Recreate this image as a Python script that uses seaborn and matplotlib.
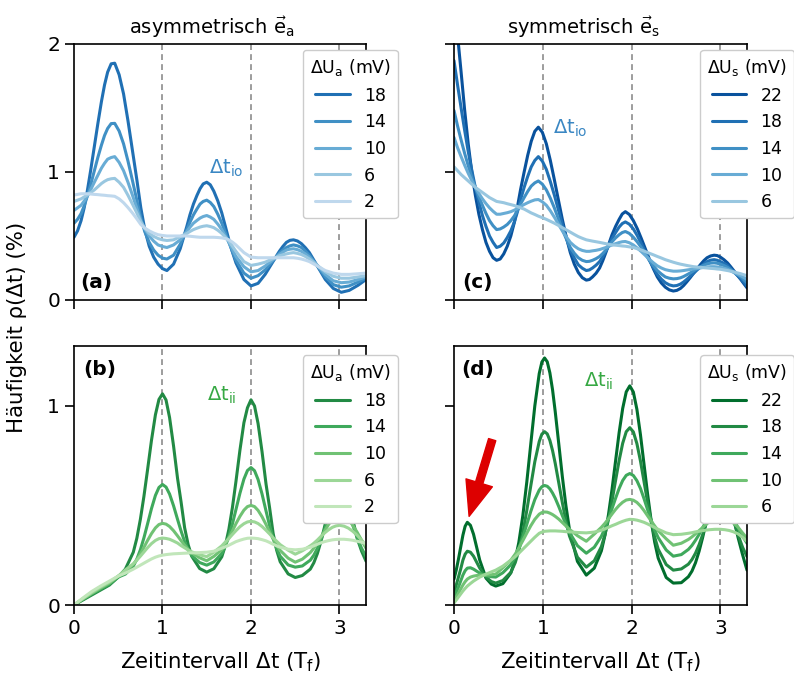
import pandas as pd
import matplotlib
matplotlib.use("Agg")
import matplotlib.pyplot as plt
import seaborn as sns

# ---------------------------------------------------------------------------
# Measured interval distributions rho(dt) in %, dt in units of T_f
# ---------------------------------------------------------------------------
# (a) asymmetric drive, Delta U_a in mV
t_a = [0, 0.04, 0.08, 0.115, 0.15, 0.19, 0.23, 0.27, 0.31, 0.345, 0.38, 0.42, 0.46,
       0.51, 0.56, 0.61, 0.66, 0.71, 0.755, 0.80, 0.85, 0.90, 0.95, 1.0, 1.05,
       1.125, 1.2,
       1.275, 1.31, 1.35, 1.39, 1.425, 1.46, 1.5, 1.54, 1.58, 1.625, 1.67, 1.71, 1.75,
       1.79, 1.83,
       1.92, 2.0, 2.08, 2.16, 2.24,
       2.32, 2.36, 2.40, 2.44, 2.48, 2.525, 2.57, 2.615, 2.66,
       2.75, 2.84, 2.93, 3.02, 3.11, 3.21, 3.3]
a_18 = [0.49, 0.54, 0.62, 0.72, 0.85, 1.02, 1.20, 1.38, 1.55, 1.68, 1.78, 1.845, 1.85,
        1.76, 1.61, 1.40, 1.17, 0.94, 0.72, 0.55, 0.42, 0.335, 0.28, 0.245, 0.23,
        0.28, 0.40,
        0.575, 0.665, 0.75, 0.818, 0.87, 0.907, 0.92, 0.90, 0.85, 0.774, 0.68, 0.576, 0.47,
        0.375, 0.29,
        0.16, 0.11, 0.13, 0.20, 0.29,
        0.38, 0.418, 0.45, 0.466, 0.47, 0.461, 0.44, 0.408, 0.37,
        0.265, 0.16, 0.09, 0.06, 0.075, 0.115, 0.16]
a_14 = [0.60, 0.63, 0.675, 0.735, 0.81, 0.905, 1.01, 1.115, 1.21, 1.285, 1.34, 1.378, 1.38,
        1.32, 1.22, 1.085, 0.935, 0.78, 0.64, 0.533, 0.45, 0.39, 0.35, 0.327, 0.32,
        0.35, 0.435,
        0.55, 0.607, 0.665, 0.712, 0.75, 0.77, 0.78, 0.762, 0.73, 0.67, 0.60, 0.526, 0.45,
        0.378, 0.31,
        0.21, 0.17, 0.19, 0.235, 0.30,
        0.365, 0.39, 0.41, 0.423, 0.43, 0.423, 0.41, 0.382, 0.35,
        0.265, 0.18, 0.12, 0.10, 0.11, 0.14, 0.17]
a_10 = [0.70, 0.72, 0.74, 0.773, 0.81, 0.864, 0.92, 0.975, 1.03, 1.068, 1.10, 1.113, 1.12,
        1.075, 1.01, 0.92, 0.82, 0.717, 0.62, 0.555, 0.50, 0.46, 0.43, 0.418, 0.41,
        0.43, 0.47,
        0.535, 0.568, 0.60, 0.622, 0.64, 0.652, 0.66, 0.648, 0.63, 0.593, 0.55, 0.50, 0.45,
        0.395, 0.34,
        0.26, 0.22, 0.23, 0.265, 0.31,
        0.355, 0.374, 0.39, 0.397, 0.40, 0.393, 0.38, 0.36, 0.335,
        0.27, 0.20, 0.15, 0.135, 0.14, 0.16, 0.18]
a_6 = [0.77, 0.78, 0.79, 0.805, 0.82, 0.84, 0.86, 0.885, 0.91, 0.927, 0.94, 0.947, 0.95,
       0.92, 0.88, 0.818, 0.75, 0.68, 0.61, 0.56, 0.52, 0.497, 0.48, 0.47, 0.465,
       0.47, 0.495,
       0.52, 0.535, 0.55, 0.561, 0.57, 0.576, 0.58, 0.574, 0.565, 0.545, 0.52, 0.49, 0.46,
       0.42, 0.38,
       0.30, 0.27, 0.28, 0.295, 0.32,
       0.345, 0.353, 0.36, 0.366, 0.37, 0.364, 0.355, 0.34, 0.32,
       0.27, 0.22, 0.185, 0.17, 0.17, 0.18, 0.19]
a_2 = [0.82, 0.825, 0.83, 0.83, 0.83, 0.828, 0.825, 0.823, 0.82, 0.818, 0.815, 0.813, 0.81,
       0.79, 0.76, 0.722, 0.68, 0.634, 0.59, 0.562, 0.54, 0.523, 0.51, 0.504, 0.50,
       0.50, 0.50,
       0.50, 0.498, 0.495, 0.492, 0.49, 0.49, 0.49, 0.49, 0.49, 0.488, 0.485, 0.48, 0.47,
       0.452, 0.43,
       0.37, 0.335, 0.33, 0.33, 0.33,
       0.33, 0.33, 0.33, 0.33, 0.33, 0.326, 0.32, 0.311, 0.30,
       0.265, 0.23, 0.21, 0.20, 0.20, 0.205, 0.21]

# (c) symmetric drive, Delta U_s in mV
t_c = [0, 0.04, 0.08, 0.12, 0.16, 0.20, 0.24, 0.28, 0.32, 0.36,
       0.40, 0.44, 0.48, 0.52, 0.56, 0.60, 0.64, 0.68, 0.715, 0.75,
       0.79, 0.83, 0.87, 0.91, 0.95, 0.995, 1.04, 1.085, 1.13, 1.175,
       1.22, 1.265, 1.31, 1.355, 1.40, 1.445, 1.49, 1.525, 1.56, 1.60,
       1.64, 1.675, 1.71, 1.745, 1.78, 1.82, 1.86, 1.895, 1.93, 1.975,
       2.02, 2.065, 2.11, 2.155, 2.20, 2.245, 2.29, 2.335, 2.38, 2.425,
       2.47, 2.51, 2.55, 2.585, 2.62, 2.66, 2.70, 2.74, 2.78, 2.815,
       2.85, 2.89, 2.93, 2.965, 3.0, 3.04, 3.08, 3.115, 3.15, 3.19,
       3.23, 3.265, 3.3]
c_22 = [2.45, 2.07, 1.78, 1.483, 1.22, 1.0, 0.82, 0.67, 0.55, 0.45,
        0.38, 0.33, 0.31, 0.32, 0.36, 0.42, 0.50, 0.607, 0.73, 0.864,
        1.00, 1.13, 1.24, 1.318, 1.35, 1.31, 1.22, 1.09, 0.94, 0.784,
        0.63, 0.49, 0.37, 0.28, 0.215, 0.174, 0.155, 0.16, 0.18, 0.209,
        0.25, 0.306, 0.37, 0.44, 0.51, 0.575, 0.63, 0.672, 0.69, 0.668,
        0.62, 0.556, 0.48, 0.40, 0.32, 0.245, 0.18, 0.133, 0.10, 0.079,
        0.07, 0.075, 0.09, 0.112, 0.14, 0.174, 0.21, 0.246, 0.28, 0.308,
        0.33, 0.344, 0.35, 0.347, 0.335, 0.315, 0.29, 0.261, 0.23, 0.195,
        0.16, 0.127, 0.095]
c_18 = [1.87, 1.68, 1.50, 1.325, 1.16, 1.015, 0.88, 0.765, 0.66, 0.575,
        0.50, 0.45, 0.41, 0.42, 0.445, 0.488, 0.54, 0.61, 0.69, 0.785,
        0.88, 0.965, 1.04, 1.09, 1.12, 1.085, 1.02, 0.925, 0.82, 0.706,
        0.59, 0.487, 0.39, 0.328, 0.275, 0.248, 0.23, 0.235, 0.25, 0.272,
        0.30, 0.338, 0.38, 0.43, 0.48, 0.527, 0.57, 0.597, 0.61, 0.592,
        0.555, 0.502, 0.44, 0.375, 0.31, 0.253, 0.20, 0.163, 0.135, 0.118,
        0.11, 0.113, 0.124, 0.14, 0.16, 0.185, 0.21, 0.236, 0.26, 0.282,
        0.30, 0.311, 0.315, 0.31, 0.30, 0.287, 0.27, 0.246, 0.22, 0.193,
        0.165, 0.137, 0.11]
c_14 = [1.48, 1.36, 1.25, 1.145, 1.05, 0.96, 0.88, 0.805, 0.74, 0.676,
        0.62, 0.58, 0.55, 0.555, 0.57, 0.59, 0.62, 0.657, 0.70, 0.75,
        0.80, 0.848, 0.89, 0.915, 0.93, 0.905, 0.86, 0.795, 0.72, 0.635,
        0.55, 0.477, 0.41, 0.365, 0.33, 0.31, 0.30, 0.302, 0.31, 0.323,
        0.34, 0.363, 0.39, 0.422, 0.455, 0.485, 0.51, 0.527, 0.535, 0.52,
        0.49, 0.453, 0.41, 0.36, 0.31, 0.268, 0.23, 0.203, 0.18, 0.17,
        0.165, 0.167, 0.173, 0.183, 0.196, 0.211, 0.228, 0.244, 0.26, 0.272,
        0.282, 0.288, 0.29, 0.287, 0.28, 0.269, 0.255, 0.238, 0.22, 0.20,
        0.18, 0.157, 0.135]
c_10 = [1.27, 1.19, 1.12, 1.053, 0.99, 0.933, 0.88, 0.833, 0.79, 0.753,
        0.72, 0.693, 0.67, 0.67, 0.676, 0.682, 0.69, 0.702, 0.716, 0.731,
        0.746, 0.76, 0.772, 0.782, 0.785, 0.767, 0.74, 0.697, 0.647, 0.594,
        0.54, 0.493, 0.45, 0.422, 0.40, 0.387, 0.38, 0.38, 0.384, 0.388,
        0.394, 0.402, 0.41, 0.42, 0.43, 0.44, 0.449, 0.455, 0.457, 0.447,
        0.43, 0.405, 0.378, 0.348, 0.318, 0.291, 0.267, 0.25, 0.237, 0.23,
        0.225, 0.225, 0.227, 0.23, 0.234, 0.238, 0.243, 0.247, 0.251, 0.255,
        0.258, 0.26, 0.26, 0.258, 0.255, 0.248, 0.24, 0.228, 0.215, 0.203,
        0.19, 0.175, 0.16]
c_6 = [1.04, 1.01, 0.98, 0.955, 0.93, 0.905, 0.88, 0.86, 0.84, 0.82,
       0.80, 0.785, 0.77, 0.765, 0.76, 0.752, 0.745, 0.738, 0.73, 0.72,
       0.71, 0.695, 0.68, 0.668, 0.655, 0.643, 0.63, 0.615, 0.60, 0.583,
       0.565, 0.548, 0.53, 0.512, 0.495, 0.482, 0.47, 0.465, 0.46, 0.455,
       0.45, 0.445, 0.44, 0.435, 0.43, 0.428, 0.425, 0.422, 0.42, 0.415,
       0.41, 0.40, 0.39, 0.378, 0.365, 0.353, 0.34, 0.328, 0.315, 0.305,
       0.295, 0.287, 0.28, 0.275, 0.27, 0.265, 0.26, 0.257, 0.255, 0.252,
       0.25, 0.247, 0.245, 0.242, 0.24, 0.235, 0.23, 0.225, 0.22, 0.212,
       0.205, 0.197, 0.19]

# (b) asymmetric drive
t_b = [0, 0.1, 0.2, 0.3, 0.4, 0.5,
       0.58, 0.67, 0.71, 0.75, 0.79, 0.83, 0.875, 0.92, 0.96, 1.0,
       1.04, 1.08, 1.125, 1.17, 1.21, 1.25, 1.29, 1.33, 1.42, 1.5,
       1.58, 1.67, 1.71, 1.75, 1.79, 1.83, 1.875, 1.92, 1.96, 2.0,
       2.04, 2.08, 2.125, 2.17, 2.21, 2.25, 2.29, 2.33, 2.42, 2.5,
       2.58, 2.67, 2.71, 2.75, 2.79, 2.83, 2.875, 2.92, 2.96, 3.0,
       3.05, 3.1, 3.15, 3.2, 3.25, 3.3]
b_18 = [0, 0.025, 0.05, 0.075, 0.10, 0.14,
        0.18, 0.265, 0.335, 0.43, 0.545, 0.675, 0.825, 0.955, 1.032, 1.06,
        1.029, 0.941, 0.798, 0.636, 0.517, 0.388, 0.303, 0.245, 0.183, 0.165,
        0.182, 0.242, 0.298, 0.38, 0.489, 0.62, 0.777, 0.915, 0.99, 1.03,
        0.999, 0.911, 0.769, 0.607, 0.489, 0.36, 0.275, 0.217, 0.156, 0.138,
        0.148, 0.18, 0.212, 0.258, 0.318, 0.39, 0.477, 0.554, 0.601, 0.618,
        0.592, 0.522, 0.429, 0.335, 0.27, 0.22]
b_14 = [0, 0.028, 0.055, 0.08, 0.105, 0.14,
        0.155, 0.195, 0.23, 0.277, 0.337, 0.405, 0.483, 0.55, 0.59, 0.605,
        0.592, 0.557, 0.498, 0.43, 0.371, 0.319, 0.278, 0.248, 0.213, 0.20,
        0.216, 0.258, 0.295, 0.345, 0.407, 0.479, 0.561, 0.632, 0.675, 0.69,
        0.674, 0.63, 0.557, 0.472, 0.399, 0.334, 0.283, 0.245, 0.201, 0.19,
        0.196, 0.225, 0.25, 0.284, 0.327, 0.376, 0.432, 0.48, 0.51, 0.52,
        0.504, 0.461, 0.401, 0.338, 0.284, 0.245]
b_10 = [0, 0.03, 0.058, 0.085, 0.11, 0.145,
        0.168, 0.204, 0.228, 0.257, 0.289, 0.323, 0.358, 0.387, 0.404, 0.41,
        0.406, 0.394, 0.373, 0.347, 0.323, 0.30, 0.279, 0.262, 0.237, 0.222,
        0.244, 0.277, 0.303, 0.338, 0.372, 0.408, 0.445, 0.476, 0.494, 0.50,
        0.494, 0.475, 0.443, 0.404, 0.367, 0.332, 0.30, 0.274, 0.235, 0.215,
        0.23, 0.263, 0.285, 0.311, 0.34, 0.37, 0.403, 0.43, 0.445, 0.45,
        0.446, 0.43, 0.40, 0.365, 0.325, 0.285]
b_6 = [0, 0.032, 0.062, 0.09, 0.115, 0.145,
       0.176, 0.207, 0.225, 0.245, 0.266, 0.287, 0.308, 0.324, 0.333, 0.336,
       0.334, 0.33, 0.321, 0.311, 0.298, 0.287, 0.276, 0.267, 0.252, 0.243,
       0.265, 0.297, 0.316, 0.334, 0.354, 0.373, 0.393, 0.408, 0.417, 0.42,
       0.417, 0.409, 0.394, 0.375, 0.357, 0.338, 0.32, 0.303, 0.275, 0.255,
       0.272, 0.297, 0.31, 0.326, 0.344, 0.361, 0.377, 0.39, 0.397, 0.40,
       0.396, 0.386, 0.37, 0.35, 0.325, 0.30]
b_2 = [0, 0.035, 0.068, 0.095, 0.12, 0.145,
       0.16, 0.18, 0.19, 0.20, 0.21, 0.22, 0.231, 0.24, 0.246, 0.25,
       0.253, 0.255, 0.257, 0.258, 0.259, 0.26, 0.261, 0.262, 0.263, 0.265,
       0.27, 0.285, 0.292, 0.30, 0.309, 0.318, 0.325, 0.331, 0.335, 0.336,
       0.335, 0.333, 0.328, 0.322, 0.314, 0.305, 0.297, 0.29, 0.28, 0.277,
       0.28, 0.29, 0.297, 0.305, 0.312, 0.318, 0.323, 0.327, 0.329, 0.33,
       0.33, 0.328, 0.325, 0.32, 0.315, 0.31]

# (d) symmetric drive
t_d = [0, 0.025, 0.05, 0.075, 0.10, 0.125, 0.15, 0.185, 0.22, 0.255, 0.29, 0.36, 0.42, 0.47,
       0.55, 0.64, 0.69, 0.73, 0.775, 0.82, 0.865, 0.91, 0.96, 0.99, 1.02,
       1.05, 1.08, 1.11, 1.14, 1.18, 1.22, 1.26, 1.30, 1.39, 1.49,
       1.58, 1.66, 1.70, 1.74, 1.78, 1.82, 1.86, 1.90, 1.94, 1.98,
       2.02, 2.06, 2.10, 2.14, 2.18, 2.22, 2.26, 2.30, 2.39, 2.47,
       2.56, 2.64, 2.68, 2.72, 2.76, 2.80, 2.84, 2.88, 2.94, 3.0,
       3.05, 3.1, 3.15, 3.2, 3.25, 3.3]
d_22 = [0.13, 0.175, 0.23, 0.29, 0.35, 0.395, 0.415, 0.40, 0.355, 0.29, 0.225, 0.135, 0.105, 0.095,
        0.107, 0.161, 0.229, 0.314, 0.448, 0.618, 0.81, 0.999, 1.162, 1.22, 1.24,
        1.221, 1.165, 1.08, 0.971, 0.809, 0.645, 0.50, 0.38, 0.219, 0.15,
        0.185, 0.272, 0.35, 0.454, 0.581, 0.724, 0.866, 0.987, 1.07, 1.10,
        1.069, 0.982, 0.855, 0.707, 0.558, 0.425, 0.316, 0.235, 0.138, 0.11,
        0.112, 0.142, 0.17, 0.212, 0.269, 0.338, 0.416, 0.493, 0.585, 0.62,
        0.595, 0.527, 0.435, 0.338, 0.253, 0.175]
d_18 = [0.065, 0.10, 0.14, 0.18, 0.225, 0.255, 0.27, 0.265, 0.245, 0.215, 0.185, 0.14, 0.118, 0.11,
        0.123, 0.164, 0.213, 0.273, 0.362, 0.475, 0.599, 0.719, 0.821, 0.858, 0.87,
        0.859, 0.826, 0.775, 0.711, 0.613, 0.514, 0.423, 0.347, 0.24, 0.19,
        0.222, 0.293, 0.352, 0.43, 0.523, 0.626, 0.726, 0.812, 0.87, 0.89,
        0.869, 0.81, 0.723, 0.62, 0.516, 0.42, 0.341, 0.28, 0.203, 0.175,
        0.181, 0.205, 0.228, 0.26, 0.302, 0.352, 0.408, 0.462, 0.526, 0.55,
        0.533, 0.486, 0.422, 0.352, 0.29, 0.243]
d_14 = [0.04, 0.065, 0.09, 0.12, 0.15, 0.172, 0.185, 0.187, 0.18, 0.17, 0.16, 0.147, 0.142, 0.14,
        0.162, 0.202, 0.242, 0.284, 0.34, 0.405, 0.47, 0.529, 0.577, 0.594, 0.60,
        0.596, 0.583, 0.562, 0.536, 0.494, 0.449, 0.405, 0.365, 0.298, 0.26,
        0.29, 0.345, 0.385, 0.432, 0.484, 0.536, 0.585, 0.625, 0.651, 0.66,
        0.65, 0.624, 0.585, 0.534, 0.479, 0.426, 0.376, 0.338, 0.276, 0.245,
        0.253, 0.279, 0.299, 0.325, 0.354, 0.387, 0.421, 0.452, 0.487, 0.50,
        0.491, 0.466, 0.429, 0.387, 0.346, 0.31]
d_10 = [0.02, 0.04, 0.06, 0.08, 0.10, 0.117, 0.13, 0.14, 0.145, 0.148, 0.15, 0.15, 0.152, 0.155,
        0.187, 0.225, 0.256, 0.286, 0.323, 0.361, 0.398, 0.43, 0.456, 0.464, 0.467,
        0.466, 0.461, 0.454, 0.445, 0.431, 0.414, 0.397, 0.38, 0.348, 0.32,
        0.356, 0.39, 0.41, 0.433, 0.457, 0.48, 0.50, 0.516, 0.527, 0.53,
        0.526, 0.515, 0.497, 0.474, 0.448, 0.422, 0.397, 0.373, 0.332, 0.30,
        0.31, 0.329, 0.342, 0.357, 0.373, 0.389, 0.405, 0.419, 0.435, 0.44,
        0.437, 0.427, 0.41, 0.39, 0.362, 0.335]
d_6 = [0.01, 0.025, 0.04, 0.055, 0.07, 0.083, 0.095, 0.108, 0.12, 0.13, 0.14, 0.155, 0.166, 0.175,
       0.195, 0.225, 0.243, 0.26, 0.28, 0.30, 0.32, 0.34, 0.36, 0.366, 0.37,
       0.371, 0.372, 0.372, 0.372, 0.371, 0.37, 0.368, 0.367, 0.364, 0.362,
       0.366, 0.375, 0.382, 0.39, 0.398, 0.405, 0.413, 0.42, 0.426, 0.43,
       0.429, 0.426, 0.421, 0.415, 0.407, 0.398, 0.389, 0.38, 0.362, 0.353,
       0.355, 0.36, 0.363, 0.367, 0.37, 0.373, 0.376, 0.378, 0.38, 0.38,
       0.378, 0.374, 0.367, 0.357, 0.34, 0.32]

levels_a = [18, 14, 10, 6, 2]
levels_s = [22, 18, 14, 10, 6]

# ---------------------------------------------------------------------------
sns.set_style("ticks")
plt.rcParams.update({
    "font.family": ["DejaVu Sans"],
    "mathtext.fontset": "dejavusans",
    "mathtext.default": "regular",
    "font.size": 14.5,
    "axes.linewidth": 1.2,
    "axes.edgecolor": "black",
    "axes.labelcolor": "black",
    "text.color": "black",
    "xtick.color": "black",
    "ytick.color": "black",
    "xtick.labelsize": 14.5,
    "ytick.labelsize": 14.5,
    "xtick.major.size": 6.5,
    "ytick.major.size": 6.5,
    "xtick.major.width": 1.2,
    "ytick.major.width": 1.2,
    "lines.solid_joinstyle": "round",
})

fig = plt.figure(figsize=(7.94, 6.81), dpi=100)
ax_a = fig.add_axes([0.0932, 0.5595, 0.3678, 0.3759])
ax_c = fig.add_axes([0.5718, 0.5595, 0.3690, 0.3759])
ax_b = fig.add_axes([0.0932, 0.1116, 0.3678, 0.3803])
ax_d = fig.add_axes([0.5718, 0.1116, 0.3690, 0.3803])


def draw_panel(ax, t, curves, levels, cmap, leg_title, leg_x, leg_y):
    df = pd.concat([pd.DataFrame({"t": t, "rho": y, "U": u})
                    for u, y in zip(levels, curves)], ignore_index=True)
    pal = {u: cmap(0.21 + 0.03 * u) for u in levels}
    sns.lineplot(data=df, x="t", y="rho", hue="U", hue_order=levels,
                 palette=pal, lw=2.2, errorbar=None, ax=ax, legend="full")
    for v in (1, 2, 3):
        ax.axvline(v, color="0.55", lw=1.2, dashes=(3.5, 2.5), zorder=0)
    handles, labels = ax.get_legend_handles_labels()
    ax.legend(handles, labels, title=leg_title, loc="upper left",
              bbox_to_anchor=(leg_x, leg_y), borderaxespad=0,
              fontsize=12.5, title_fontsize=12.5, framealpha=1,
              edgecolor="0.8", fancybox=True)
    ax.set_xlim(0, 3.3)
    ax.set_xticks([0, 1, 2, 3])
    ax.set_xlabel("")
    ax.set_ylabel("")


draw_panel(ax_a, t_a, [a_18, a_14, a_10, a_6, a_2], levels_a, plt.cm.Blues,
           "ΔU$_\\mathrm{a}$ (mV)", 0.784, 0.977)
draw_panel(ax_c, t_c, [c_22, c_18, c_14, c_10, c_6], levels_s, plt.cm.Blues,
           "ΔU$_\\mathrm{s}$ (mV)", 0.84, 0.977)
draw_panel(ax_b, t_b, [b_18, b_14, b_10, b_6, b_2], levels_a, plt.cm.Greens,
           "ΔU$_\\mathrm{a}$ (mV)", 0.784, 0.965)
draw_panel(ax_d, t_d, [d_22, d_18, d_14, d_10, d_6], levels_s, plt.cm.Greens,
           "ΔU$_\\mathrm{s}$ (mV)", 0.84, 0.965)

for ax in (ax_a, ax_c):
    ax.set_ylim(0, 2)
    ax.set_yticks([0, 1, 2])
    ax.tick_params(labelbottom=False)
for ax in (ax_b, ax_d):
    ax.set_ylim(0, 1.3)
    ax.set_yticks([0, 1])
    ax.set_xlabel("Zeitintervall Δt (T$_\\mathrm{f}$)", labelpad=9, fontsize=15.3)
for ax in (ax_c, ax_d):
    ax.tick_params(labelleft=False)

ax_a.set_title("asymmetrisch $\\vec{\\mathrm{e}}_\\mathrm{a}$", fontsize=14, pad=7, x=0.471)
ax_c.set_title("symmetrisch $\\vec{\\mathrm{e}}_\\mathrm{s}$", fontsize=14, pad=7, x=0.44)

# panel letters
ax_a.text(0.02, 0.045, "(a)", transform=ax_a.transAxes, fontweight="bold")
ax_c.text(0.027, 0.045, "(c)", transform=ax_c.transAxes, fontweight="bold")
ax_b.text(0.03, 0.91, "(b)", transform=ax_b.transAxes, fontweight="bold", va="center")
ax_d.text(0.025, 0.91, "(d)", transform=ax_d.transAxes, fontweight="bold", va="center")

# interval annotations
blue_txt = "#3a87c3"
green_txt = "#36a843"
ax_a.text(1.53, 1.03, "Δt$_\\mathrm{io}$", color=blue_txt, va="center", fontsize=14)
ax_c.text(1.12, 1.34, "Δt$_\\mathrm{io}$", color=blue_txt, va="center", fontsize=14)
ax_b.text(1.50, 1.05, "Δt$_\\mathrm{ii}$", color=green_txt, va="center", fontsize=14)
ax_d.text(1.46, 1.125, "Δt$_\\mathrm{ii}$", color=green_txt, va="center", fontsize=14)

# arrow pointing at the early side peak in (d)
ax_d.annotate("", xy=(0.17, 0.445), xytext=(0.43, 0.83),
              arrowprops=dict(arrowstyle="simple,head_length=1.4,head_width=1.1,tail_width=0.3",
                              color="#dd0000", mutation_scale=18, shrinkA=0, shrinkB=0))

fig.text(0.022, 0.52, "Häufigkeit ρ(Δt) (%)", rotation=90, va="center", ha="center",
         fontsize=15.3)

fig.savefig("out.png", dpi=100)
